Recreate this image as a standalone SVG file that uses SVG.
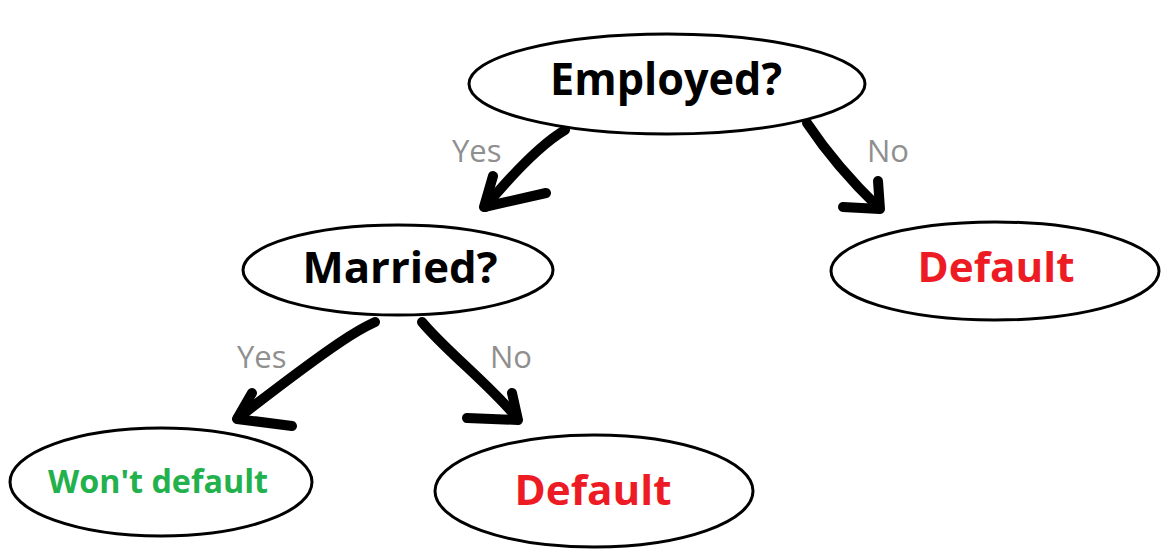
<svg xmlns="http://www.w3.org/2000/svg" width="1168" height="560" viewBox="0 0 1168 560">
<style>
.node{fill:#fff;stroke:#000;stroke-width:3}
.q{font-family:"Open Sans","Liberation Sans",sans-serif;font-weight:bold;fill:#000;text-anchor:middle}
.def{font-family:"Open Sans","Liberation Sans",sans-serif;font-weight:bold;fill:#ED1C24;text-anchor:middle}
.ok{font-family:"Open Sans","Liberation Sans",sans-serif;font-weight:bold;fill:#22B14C;text-anchor:middle}
.lbl{font-family:"Open Sans","Liberation Sans",sans-serif;fill:#8f8f8f;font-size:31px}
.arr{fill:none;stroke:#000;stroke-width:10;stroke-linecap:round;stroke-linejoin:round}
</style>
<rect width="1168" height="560" fill="#fff"/>
<g id="connectors">
<path class="arr" d="M565,130 C548,140 520,165 485,207"/>
<path class="arr" d="M493,176 L484,207 L546,193"/>
<path class="arr" d="M807,123 C825,150 850,180 879,208"/>
<path class="arr" d="M878,181 L880,209 L843,207"/>
<path class="arr" d="M375,322 C362,328 345,335 238,418"/>
<path class="arr" d="M252,393 L237,419 L292,426"/>
<path class="arr" d="M422,322 C445,350 490,385 517,418"/>
<path class="arr" d="M512,393 L518,420 L467,418"/>
<text class="lbl" x="452" y="162">Yes</text>
<text class="lbl" x="867" y="162">No</text>
<text class="lbl" x="237" y="368">Yes</text>
<text class="lbl" x="490" y="368">No</text>
</g>
<g id="employed">
<ellipse class="node" cx="667" cy="84" rx="198" ry="50"/>
<text class="q" x="666" y="95" font-size="45" textLength="232" lengthAdjust="spacingAndGlyphs">Employed?</text>
</g>
<g id="married">
<ellipse class="node" cx="398" cy="270" rx="155" ry="45"/>
<text class="q" x="400" y="283" font-size="43" textLength="195" lengthAdjust="spacingAndGlyphs">Married?</text>
</g>
<g id="default-right">
<ellipse class="node" cx="995" cy="271" rx="164" ry="49"/>
<text class="def" x="996" y="282" font-size="41" textLength="157" lengthAdjust="spacingAndGlyphs">Default</text>
</g>
<g id="wont-default">
<ellipse class="node" cx="161" cy="482" rx="151" ry="54"/>
<text class="ok" x="158" y="493" font-size="32" textLength="220" lengthAdjust="spacingAndGlyphs">Won't default</text>
</g>
<g id="default-bottom">
<ellipse class="node" cx="594" cy="491" rx="159" ry="56"/>
<text class="def" x="593" y="505" font-size="41" textLength="157" lengthAdjust="spacingAndGlyphs">Default</text>
</g>
</svg>
